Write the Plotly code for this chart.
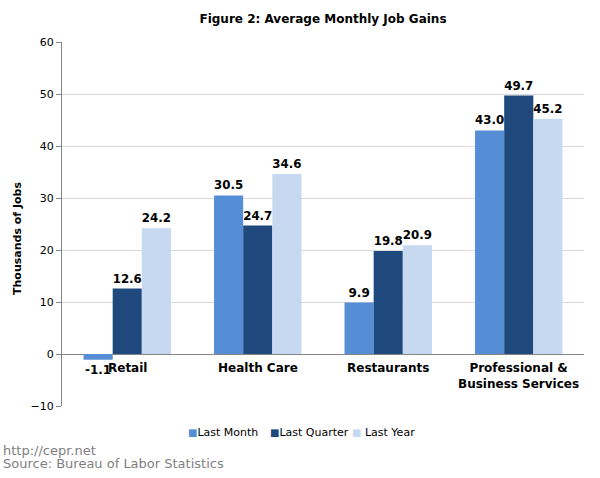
import plotly.graph_objects as go

categories = ["Retail", "Health Care", "Restaurants", "Professional &<br>Business Services"]
series_names = ["Last Month", "Last Quarter", "Last Year"]
last_month = [-1.1, 30.5, 9.9, 43.0]
last_quarter = [12.6, 24.7, 19.8, 49.7]
last_year = [24.2, 34.6, 20.9, 45.2]
colors = ["#558ED5", "#1F497D", "#C6D9F1"]
y_ticks = [-10, 0, 10, 20, 30, 40, 50, 60]
footer_lines = ["http://cepr.net", "Source: Bureau of Labor Statistics"]

FONT = "DejaVu Sans"
W, H = 600, 478
ML, MR, MT, MB = 62, 16, 42, 72
PW, PH = W - ML - MR, H - MT - MB


def px(x):
    return (x - ML) / PW


def py(y):
    return (H - MB - y) / PH


fig = go.Figure()
for name, vals, c in zip(series_names, [last_month, last_quarter, last_year], colors):
    fig.add_trace(go.Bar(
        x=categories, y=vals, name=name, marker=dict(color=c, line=dict(width=0)),
        text=[f"<b>{v:.1f}</b>" for v in vals], textposition="outside",
        textfont=dict(family=FONT, size=12, color="#000000"),
        cliponaxis=False, showlegend=False,
    ))

# category labels sitting just under the zero line
for cat in categories:
    fig.add_annotation(x=cat, y=0, xref="x", yref="y", text=f"<b>{cat}</b>",
                       showarrow=False, yanchor="top", yshift=-5,
                       font=dict(family=FONT, size=12, color="#000000"))

# legend drawn as text items
legend_x = [186, 268, 350]
legend_gap = ["", "", " "]
for name, c, lx, gap in zip(series_names, colors, legend_x, legend_gap):
    fig.add_annotation(x=px(lx), y=py(432), xref="paper", yref="paper",
                       xanchor="left", yanchor="middle", showarrow=False,
                       text=f"<span style='color:{c};font-size:10px'>■</span>{gap}{name}",
                       font=dict(family=FONT, size=11, color="#000000"))

# footer
for i, line in enumerate(footer_lines):
    fig.add_annotation(x=px(2), y=py(450 + 14 * i), xref="paper", yref="paper",
                       xanchor="left", yanchor="middle", showarrow=False, text=line,
                       borderpad=0,
                       font=dict(family=FONT, size=13, color="#7F7F7F"))

# y-axis title
fig.add_annotation(x=px(17), y=py(239), xref="paper", yref="paper",
                   xanchor="center", yanchor="middle", showarrow=False, textangle=-90,
                   text="<b>Thousands of Jobs</b>",
                   font=dict(family=FONT, size=11, color="#000000"))

fig.update_layout(
    width=W, height=H,
    margin=dict(l=ML, r=MR, t=MT, b=MB, autoexpand=False),
    paper_bgcolor="white", plot_bgcolor="white",
    barmode="group", bargap=0.33, bargroupgap=0,
    title=dict(text="<b>Figure 2: Average Monthly Job Gains</b>", x=323 / W,
               xanchor="center", y=1 - 19 / H, yanchor="middle",
               font=dict(family=FONT, size=12, color="#000000")),
    font=dict(family=FONT, size=11, color="#000000"),
    showlegend=False,
)
fig.update_xaxes(showticklabels=False, showline=False, ticks="", showgrid=False)
fig.update_yaxes(range=[-10, 60], tickvals=y_ticks, showgrid=True, gridcolor="#D9D9D9",
                 showline=True, linecolor="#868686", linewidth=1, ticks="outside",
                 ticklen=5, tickcolor="#868686",
                 zeroline=True, zerolinecolor="#868686", zerolinewidth=1,
                 tickfont=dict(family=FONT, size=11, color="#000000"))

fig.write_html("out.html", config={"displayModeBar": False},
               post_script="document.body.style.margin='0';")
